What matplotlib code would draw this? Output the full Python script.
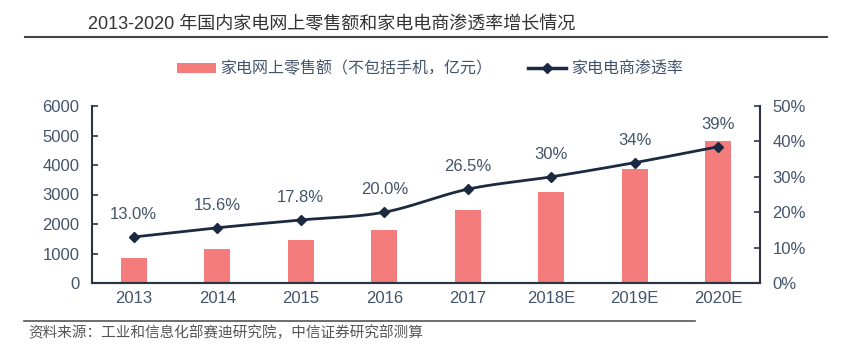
import numpy as np
import matplotlib
matplotlib.use("Agg")
import matplotlib.pyplot as plt
from matplotlib.lines import Line2D
from matplotlib.patches import Patch

plt.rcParams['font.family'] = ['Liberation Sans', 'Noto Sans CJK SC', 'DejaVu Sans']

categories = ["2013", "2014", "2015", "2016", "2017", "2018E", "2019E", "2020E"]
retail_sales = [850, 1150, 1450, 1780, 2470, 3090, 3860, 4820]
penetration = [13.0, 15.6, 17.8, 20.0, 26.5, 30.0, 34.0, 38.5]
pen_labels = ["13.0%", "15.6%", "17.8%", "20.0%", "26.5%", "30%", "34%", "39%"]
left_ticks = [0, 1000, 2000, 3000, 4000, 5000, 6000]
right_ticks = [0, 10, 20, 30, 40, 50]

title = "2013-2020 年国内家电网上零售额和家电电商渗透率增长情况"
legend_bar = "家电网上零售额（不包括手机，亿元）"
legend_line = "家电电商渗透率"
source = "资料来源：工业和信息化部赛迪研究院，中信证券研究部测算"

BAR = "#F47C7C"
LINE = "#1B2A41"
TXT = "#44546A"
SPINE = "#2B3542"
CJK = ['Noto Sans CJK SC', 'DejaVu Sans']

W, H = 847, 355
fig = plt.figure(figsize=(W / 100, H / 100), dpi=100)
ax = fig.add_axes([92 / W, 1 - 283 / H, (760 - 92) / W, (283 - 106) / H])
ax2 = ax.twinx()

x = np.arange(len(categories))
ax.bar(x, retail_sales, width=0.31, color=BAR, zorder=2)
ax.set_xlim(-0.5, len(categories) - 0.5)
ax.set_ylim(0, 6000)
ax.set_yticks(left_ticks)
ax.set_xticks(x)
ax.set_xticklabels(categories)

# Smoothed line (Excel-like Bezier smoothing through the data points)
px = x.astype(float)
py = np.array(penetration, dtype=float)
xs, ys = [], []
n = len(px)
for i in range(n - 1):
    p0 = (px[max(i - 1, 0)], py[max(i - 1, 0)])
    p1 = (px[i], py[i])
    p2 = (px[i + 1], py[i + 1])
    p3 = (px[min(i + 2, n - 1)], py[min(i + 2, n - 1)])
    c1 = (p1[0] + (p2[0] - p0[0]) / 6, p1[1] + (p2[1] - p0[1]) / 6)
    c2 = (p2[0] - (p3[0] - p1[0]) / 6, p2[1] - (p3[1] - p1[1]) / 6)
    t = np.linspace(0, 1, 30)
    bx = (1 - t) ** 3 * p1[0] + 3 * (1 - t) ** 2 * t * c1[0] + 3 * (1 - t) * t ** 2 * c2[0] + t ** 3 * p2[0]
    by = (1 - t) ** 3 * p1[1] + 3 * (1 - t) ** 2 * t * c1[1] + 3 * (1 - t) * t ** 2 * c2[1] + t ** 3 * p2[1]
    xs.extend(bx)
    ys.extend(by)
ax2.plot(xs, ys, color=LINE, lw=2.0, zorder=3)
ax2.plot(px, py, ls='none', marker='D', ms=5.5, color=LINE, zorder=4)
ax2.set_ylim(0, 50)
ax2.set_yticks(right_ticks)
ax2.set_yticklabels([f"{v}%" for v in right_ticks])

for xi, yi, lab in zip(px, py, pen_labels):
    ax2.annotate(lab, (xi, yi), xytext=(0, 16), textcoords='offset points',
                 ha='center', va='center', fontsize=12, color=TXT)

for a in (ax, ax2):
    a.spines['top'].set_visible(False)
    for s in ('left', 'right', 'bottom'):
        a.spines[s].set_color(SPINE)
        a.spines[s].set_linewidth(1.5)
    a.tick_params(axis='y', direction='in', length=4, width=1.2, colors=SPINE,
                  labelcolor=TXT, labelsize=12, pad=9)
    a.tick_params(axis='x', length=0, labelcolor=TXT, labelsize=12, pad=6)
ax.spines['right'].set_visible(False)
ax2.spines['left'].set_visible(False)
ax.set_facecolor('none')

# Title and rule
fig.text(88 / W, 1 - 25 / H, title, fontsize=13, color="#333333", ha='left', va='center',
         family=['Liberation Sans', 'Noto Sans CJK SC'])
fig.add_artist(Line2D([25 / W, 827 / W], [1 - 37 / H, 1 - 37 / H], color="#444444", lw=1.5))

# Legend
handles = [Patch(facecolor=BAR, edgecolor='none'),
           Line2D([0], [0], color=LINE, lw=2.5, marker='D', ms=5)]
leg = fig.legend(handles, [legend_bar, legend_line], loc='center', bbox_to_anchor=(430 / W, 1 - 69 / H),
                 ncol=2, frameon=False, prop={'family': CJK, 'size': 11.5}, handlelength=2.4,
                 handleheight=0.6, handletextpad=0.3, columnspacing=2.2)
for t in leg.get_texts():
    t.set_color(TXT)

# Footer
fig.add_artist(Line2D([24 / W, 695 / W], [1 - 321 / H, 1 - 321 / H], color="#555555", lw=1.2))
fig.text(28 / W, 1 - 333 / H, source, fontsize=10.5, color="#555555", ha='left', va='center', family=CJK)

fig.savefig("out.png", dpi=100)
